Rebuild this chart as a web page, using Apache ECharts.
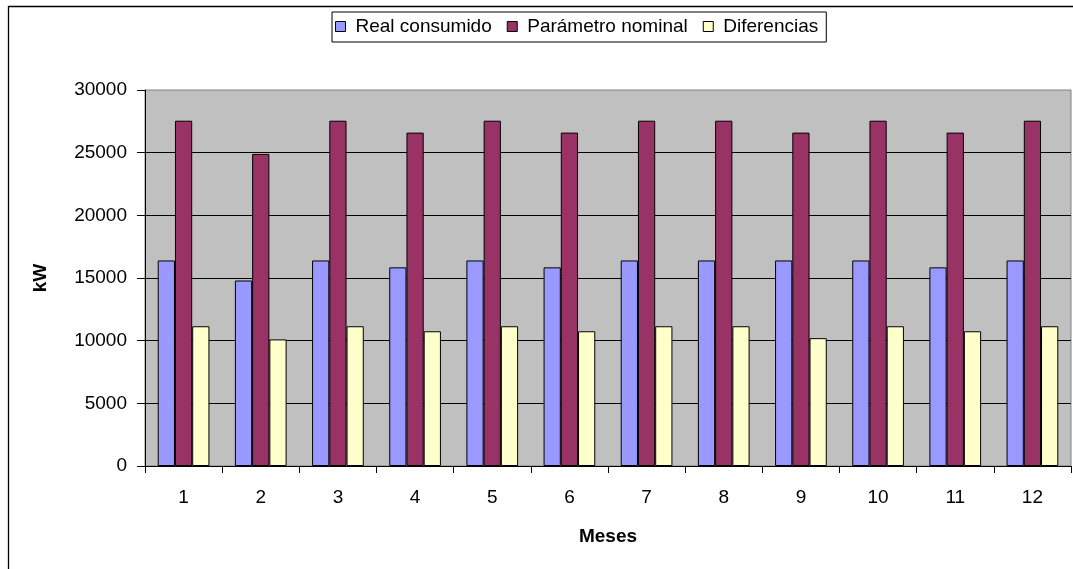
<!DOCTYPE html>
<html>
<head>
<meta charset="utf-8">
<title>Consumo mensual</title>
<script src="https://cdn.jsdelivr.net/npm/echarts@6/dist/echarts.min.js"></script>
<style>
  html, body { margin: 0; padding: 0; background: #ffffff; }
  #chart { width: 1073px; height: 569px; }
</style>
</head>
<body>
<div id="chart"></div>
<script>
// Monthly values (kW)
const meses = ['1', '2', '3', '4', '5', '6', '7', '8', '9', '10', '11', '12'];
const realConsumido = [16400, 14800, 16400, 15850, 16400, 15850, 16400, 16400, 16400, 16400, 15850, 16400];
const parametroNominal = [27550, 24900, 27550, 26600, 27550, 26600, 27550, 27550, 26600, 27550, 26600, 27550];
const diferencias = [11150, 10100, 11150, 10750, 11150, 10750, 11150, 11150, 10200, 11150, 10750, 11150];

const seriesNames = ['Real consumido', 'Parámetro nominal', 'Diferencias'];
const seriesColors = ['#9999FF', '#993366', '#FFFFCC'];
const seriesData = [realConsumido, parametroNominal, diferencias];

const FONT = '"Liberation Sans", Arial, sans-serif';

const chart = echarts.init(document.getElementById('chart'), null, { renderer: 'canvas' });

chart.setOption({
  animation: false,
  backgroundColor: '#ffffff',
  textStyle: { fontFamily: FONT, color: '#000' },
  graphic: [
    {
      // outer chart frame (left and top edges)
      type: 'polyline',
      silent: true,
      shape: { points: [[8.5, 569], [8.5, 6.5], [1073, 6.5]] },
      style: { stroke: '#000', lineWidth: 1.3, fill: null }
    }
  ],
  legend: {
    left: 332,
    top: 12,
    padding: [5, 8, 6, 3],
    borderColor: '#000',
    borderWidth: 1,
    itemWidth: 10,
    itemHeight: 10,
    itemGap: 15,
    icon: 'rect',
    itemStyle: { borderColor: '#000', borderWidth: 1 },
    textStyle: { fontFamily: FONT, fontSize: 19, color: '#000', padding: [0, 0, 0, 5] },
    data: seriesNames
  },
  grid: {
    left: 145,
    right: 2,
    top: 90,
    bottom: 103,
    show: true,
    backgroundColor: '#C0C0C0',
    borderColor: '#808080',
    borderWidth: 1
  },
  xAxis: {
    type: 'category',
    data: meses,
    name: 'Meses',
    nameLocation: 'middle',
    nameGap: 61,
    nameTextStyle: { fontFamily: FONT, fontSize: 19, fontWeight: 'bold', color: '#000' },
    axisLine: { show: true, lineStyle: { color: '#000', width: 1 } },
    axisTick: { show: true, length: 7, alignWithLabel: false, lineStyle: { color: '#000' } },
    axisLabel: { fontFamily: FONT, fontSize: 19, color: '#000', margin: 22 },
    splitLine: { show: false }
  },
  yAxis: {
    type: 'value',
    min: 0,
    max: 30000,
    interval: 5000,
    name: 'kW',
    nameLocation: 'middle',
    nameRotate: 90,
    nameGap: 95,
    nameTextStyle: { fontFamily: FONT, fontSize: 19, fontWeight: 'bold', color: '#000' },
    axisLine: { show: true, lineStyle: { color: '#000', width: 1 } },
    axisTick: { show: true, length: 8, inside: false, lineStyle: { color: '#000' } },
    axisLabel: {
      fontFamily: FONT, fontSize: 19, color: '#000', margin: 18,
      formatter: (v) => String(v)
    },
    splitLine: { show: true, showMinLine: false, showMaxLine: false, lineStyle: { color: '#000', width: 1 } }
  },
  series: seriesNames.map((name, i) => ({
    name: name,
    type: 'bar',
    data: seriesData[i],
    barGap: '0%',
    barCategoryGap: '33%',
    itemStyle: { color: seriesColors[i], borderColor: '#000', borderWidth: 1 }
  }))
});
</script>
</body>
</html>
